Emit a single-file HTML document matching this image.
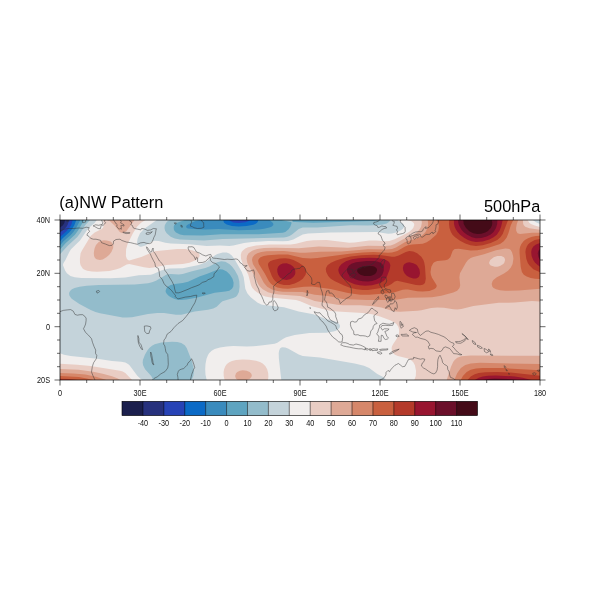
<!DOCTYPE html>
<html><head><meta charset="utf-8"><title>NW Pattern 500hPa</title>
<style>
html,body{margin:0;padding:0;background:#fff;width:600px;height:600px;overflow:hidden}
svg{position:absolute;left:0;top:0;display:block;will-change:transform}
.ax{font-family:"Liberation Sans",Arial,sans-serif;font-size:8.5px;fill:#111}
.tt{font-family:"Liberation Sans",Arial,sans-serif;font-size:16.3px;fill:#000}
</style></head><body>
<svg width="600" height="600" viewBox="0 0 600 600">
<defs><clipPath id="fr"><rect x="60" y="220" width="480" height="160"/></clipPath></defs>
<g clip-path="url(#fr)">
<rect x="60" y="220" width="480" height="160" fill="#1b1f4d"/>
<path fill="#27317d" d="M60,380 540,380 540,220 65,220 64.4,222.7 63.7,224 62.7,225.4 60,227.4 60,380Z"/>
<path fill="#2743b6" d="M60,380 540,380 540,220 68.9,220 68,224 66.5,226.7 64,229.3 60,232.4 60,380Z"/>
<path fill="#0b6ac6" d="M60,380 540,380 540,220 250.2,220 248,221.3 245.3,222.2 238.7,223 233.3,222.4 230.7,221.3 229.1,220 72.6,220 71.6,224 69.4,228 66.7,231.1 60,236.9 60,380Z"/>
<path fill="#3a8bbd" d="M60,380 540,380 540,220 258.2,220 258,221.3 257.1,222.7 255.2,224 253.3,224.8 246.7,226.1 238.7,226.6 232,226.1 226.7,224.6 224.1,222.7 223.5,221.3 223.4,220 76.3,220 74.3,225.3 71.9,229.3 69.3,232.3 62.7,238.3 60,241.2 60,380Z"/>
<path fill="#5ea4c0" d="M60,380 540,380 540,220 269.6,220 272.7,222.7 273.4,224 273.2,225.3 271.5,226.7 269.3,227.5 264,228.8 258.7,229.6 238.7,230.3 218.7,229.1 205.3,229.6 198.1,229.3 188,228.4 186.8,228 186,226.7 186.8,225.3 188.9,224 195,221.3 199.7,220 80.3,220 76.1,228 73.4,232 70.7,234.9 63.5,241.3 60,245.4 60,380Z"/>
<path fill="#93bccb" d="M60,380 540,380 540,220 381.4,220 373.3,221.1 313.3,222.7 294.7,222.1 293.3,222 292.2,221.3 292.4,220 281.5,220 290.7,222 291.7,222.7 290.3,226.7 288.6,229.3 285.3,231.9 282.7,232.7 258.7,234.2 221.3,234.2 202.7,235.5 184,235.3 180,234.6 176,232.4 174.4,230.7 173.8,229.3 173.7,226.7 174.1,225.3 175.2,224 177.1,222.7 184.8,220 84.7,220 82.6,222.7 77.9,230.7 74.9,234.7 65.3,243.4 60,249.6 60,380ZM181.3,300 178.7,299.9 174.7,299 170.9,297.3 168.9,296 166.7,293.8 165.7,292 165.6,290.7 166.6,288 168,286.6 170.7,285.1 174.7,284.1 182.7,283 188,281.7 200,276.3 206.7,274.1 216,270.3 219.7,269.3 222.7,269.5 226.7,271.5 230,274.7 232.5,278.7 233.6,282.7 233.3,286.5 232,288.8 229.3,290.7 225.3,291.6 214.7,292.7 197.3,297.5 186.7,299.4 181.3,300Z"/>
<path fill="#c4d3da" d="M60,380 153.3,380 151.2,376 145.1,369.3 143.1,365.3 142.7,362.7 142.9,360 144.9,354.7 147.2,350.7 149.3,348.1 152,345.8 154.7,344.3 161.3,342.6 172,341.7 177.3,342 181.3,343 184.8,345.3 186.7,348 192,361.6 193.5,368 193.8,372 193.3,375.9 192.1,378.7 191.1,380 540,380 540,220.7 538.6,220 390.4,220 389.3,221.8 386.7,223.5 382.7,224.5 378.7,224.9 368,225.5 350.7,225.3 317.3,227.4 302.7,227.6 298.7,228.9 292,234.4 289.5,236 286.7,237 284,237.5 222.7,238.9 204,240.4 180,239.5 174.7,238.4 170.7,236.8 166.7,233.3 165.1,230.7 164.5,228 164.8,225.3 166.2,222.7 167.5,221.3 170,220 90.1,220 85.3,225 80.1,233.3 77.3,236.9 68,245.4 60,254.3 60,380ZM122.7,317.5 100,313.3 95.5,312 90.7,310 79.4,304 71.7,298.7 70.5,297.3 69.3,295.2 69.1,293.3 69.5,292 70.3,290.7 71.9,289.3 74.6,288 79.5,286.7 86.7,285.7 98.7,285 134.7,284.6 148,283.2 152,282.2 156,280.7 166.7,274.5 170.7,273.9 178.7,274.4 182.7,274 192,271.3 205.3,268.1 209.3,266.5 217.3,262.3 221.3,261.3 225.3,261.7 229.3,263.9 232,266.5 234.7,270 238,276 239.3,281.3 239.6,286.7 238.9,292 237.3,295.3 236,296.7 233.3,298.1 222.5,301.3 220.7,302.7 216.7,306.7 213.3,308.4 208,309.8 194.7,311.5 181.3,314.7 176,314.7 164,313.1 157.3,313 148,314.1 132,317.2 126.7,317.6 122.7,317.5Z"/>
<path fill="#f1eeed" d="M60,380 61.3,380 141.9,380 137.3,375.8 129.5,365.3 128,364.1 125.3,362.6 121.3,361.7 112,361 97.3,358.8 70.7,356 64,354.7 60,353.3 60,380ZM206.7,380 281.3,380 278.9,358.7 278.7,353.3 279.1,350.7 280,348.6 281.3,347.6 282.7,347.3 285.3,347.5 288,348.4 298.7,354.6 302.7,356 320,357.6 354.7,363.5 364,365.7 369.2,368 377.3,374.1 383.6,377.3 385.1,378.7 385.9,380 540,380 540,223.9 536,222.3 532.7,220 397.6,220 403.1,224 404.1,225.3 404.3,226.7 402.7,228.9 400.1,230.7 396,232.5 392,233.6 388,233.7 380,232.4 376,232.1 330.7,232.5 308,233.4 302.7,234.4 293.3,239.4 288,241 282.7,241.3 268,241.1 252,242.1 244,243 233.3,245.5 229.3,246 220,245.4 206.7,246 189.3,244.3 170.7,243.5 165.3,242.8 158.7,241.1 154.7,240.8 152,241.6 145.3,245.4 141.3,246.7 140,246.7 137.8,245.3 137,242.7 137.6,238.7 140,233.3 144,228.9 156.7,220 96.8,220 94.8,222.7 88,228.7 80,240.4 71,249.3 69.3,252 65.3,260.2 63.7,262.7 63.1,264 63,265.3 65.2,270.7 66.9,273.3 70.4,276 74.7,277.3 81.3,278.1 110.7,278.3 125.3,277.6 138.7,275.2 150.7,274.8 153.3,274.1 161.3,270.4 165.3,269.2 169.3,268.6 182.7,268.2 198.7,265.1 205.3,262.5 214.7,255.5 217.3,254 222.7,252.4 226.7,252.4 229.3,253.4 232,255.7 234.7,259.5 241.8,272 243.7,277.3 245.3,288.7 247.3,293.3 250.7,297.2 257.3,302.4 261.3,304.4 264,305.1 284,307.3 298.7,311.4 313.3,314.3 324,318.3 336,321.8 338.7,323.4 339.9,325.3 340,326.7 339.4,328 338.2,329.3 336,330.7 333.3,331.6 326.7,332.7 309.3,332.9 294.7,335 286.2,337.3 283.3,338.7 277.3,342.8 274.7,343.7 263.1,345.3 253.3,346.2 246.7,346.4 233.3,346.1 226.7,346.5 220,347.4 214.7,349 211.7,350.7 209.3,352.9 208,354.9 206.5,358.7 205.5,364 205.2,369.3 205.5,374.7 206.7,380Z"/>
<path fill="#e9cdc4" d="M60,380 61.3,380 132.1,380 125.3,373.1 122.7,371.6 120,370.8 90.7,365.9 77.3,364.7 60,363.7 60,380ZM224.6,380 267.9,380 268.4,377.3 268.2,373.3 267.2,369.3 265.3,366.1 262.7,363.5 260,362 256,360.7 249.3,359.8 242.7,359.6 236,360.1 232,361 229.3,362.2 226.9,364 225.3,366.2 224.1,369.3 223.6,372 223.7,376 224.6,380ZM414.3,380 540,380 540,226.9 534.7,225.5 531,224 529.3,222.7 527.6,220 406.7,220 411.5,221.3 413.5,222.7 414.2,224 414.2,225.3 413.3,227.8 412.2,229.3 409.3,231.8 406.7,233.3 394.7,239.3 389.3,240.9 385.3,241.2 376,240.6 369.3,240.6 354.7,242.6 349.3,242.8 326.7,240.1 313.3,240.2 306.7,241 296,243.7 290.7,244.5 269.3,244.4 256,245.4 248,247.3 245.3,248.5 242.6,250.7 241.6,252 240.8,254.7 241,258.7 242.8,264 248.3,274.7 251,285.3 252.4,288 254.7,290.5 257.3,292.6 261.3,294.9 265.3,296.4 270.7,297.5 296,300.1 300.2,301.3 312,306.3 330.7,310.9 337.3,311.6 362.7,312.9 372,314.3 380,316.6 390.7,320.6 394.8,322.7 396.4,324 398.3,326.7 399,329.3 399.1,332 398.7,334.7 397.7,337.3 393.2,344 392,346.3 391.6,348 391.9,350.7 393.3,353.3 394.9,354.7 397.9,356 408,358.5 410.9,360 413.3,362.3 414.9,365.3 416,370.7 415.8,376 414.3,380ZM87.2,270.7 92,271.5 97.3,271.8 109.3,271 116.7,269.3 120.3,268 126.7,264.6 129.3,264.1 144,267.3 149.3,267.9 153.3,267.6 166.7,265 182.7,264.1 189.5,262.7 196.2,260 199.1,257.3 199.6,256 199.5,254.7 198.7,253.3 196.9,252 192,250.2 185.3,249 177.3,249 154.7,251.2 141.3,256.9 129.3,260.5 128,260 126.8,258.7 125.9,256 126.1,249.3 127.6,244 132.9,233.3 137,226.7 141,222.7 145.5,220 102.9,220 103.7,222.7 103.9,225.3 102.8,228 101.2,229.3 94.7,232.4 90.7,235.9 81.8,250.7 80.6,253.3 79.9,258.7 80,262.7 80.6,265.3 82.7,268.4 84,269.4 87.2,270.7Z"/>
<path fill="#dea996" d="M60,380 61.3,380 120.3,380 117.3,378.2 112,376.3 102.7,373.7 93.3,371.7 78.7,369.8 60,369.1 60,380ZM236,378.7 237.8,380 246.7,380 249.8,378.7 251.2,377.3 251.8,376 251.7,374.7 251,373.3 249.6,372 246.7,370.7 242.7,370.3 240,370.7 237.3,371.9 236,373.3 235.1,376 236,378.7ZM446.7,380 540,380 540,355.8 470.7,355.5 461.3,356.3 457.3,357.8 454.7,360 453.3,361.7 451,366.7 446.7,380ZM391.9,310.7 396,311.5 400,311.7 417.3,310.8 421.3,310.3 431.1,308 437.3,307.4 444,307.8 453.3,309.3 457.3,309.5 461.3,308.9 473.3,306 498.7,302.8 514.7,302.6 532,301 540,301.6 540,229.8 529.3,228.3 525.3,226.7 524,225.5 523.2,224 522.9,220 421.5,220 421.9,222.7 421.1,226.7 419.6,229.3 417.3,232 413.3,234.8 402.7,239.5 394.7,244 390.7,245.5 385.3,246 368,245.8 348,247.7 318.7,246.4 298.7,248.2 274.7,247.7 264,248 257.3,248.9 252.2,250.7 248.6,253.3 247,256 246.6,258.7 247.3,262.7 249.2,266.7 253.9,274.7 258.1,284 260,286.7 262.7,289.2 268,292.2 273.3,293.8 278.7,294.6 300,296 304,297.1 314.7,300.9 337.3,304.8 342.7,305.3 360,305.3 373.3,306.2 381.3,307.5 391.9,310.7ZM494.7,266.7 490.7,265.4 489.4,264 489.1,262.7 490.2,260 493.7,257.3 497.3,256 501.3,255.9 504,257.3 504.8,258.7 505.1,260 504.3,262.7 503.3,264 500,266.1 497.3,266.7 494.7,266.7ZM99.9,260 102.7,259.4 106.4,257.3 109.3,254.7 111.4,252 113.1,248 113.3,245.3 112,242.7 110.7,241.6 106.7,240.4 104,240.3 101.3,240.7 98.7,242 96,245 94.7,248 94.1,250.7 93.8,253.3 94.1,256 94.7,257.4 96,258.9 97.3,259.6 99.9,260ZM119.8,232 121.3,232.8 122.7,232.8 125.3,231.8 126.7,230.7 134.5,220 108.7,220 114.3,225.3 119.8,232Z"/>
<path fill="#d6876a" d="M60,380 61.3,380 106.5,380 96,376.7 85.3,374.6 73.3,373.4 60,372.9 60,380ZM454.3,380 540,380 540,364.1 480,362.8 470.7,363.4 465.3,365 460.9,368 457.3,372.9 454.3,380ZM366.7,300 392,300.1 397.3,299.6 408,297.7 424,297.6 432,297.2 441.3,295.7 453.3,292.6 457.2,290.7 459.5,288 460.2,285.3 459.4,277.3 460,273.3 465.9,262.7 468,259.9 470.7,258 473.3,256.9 484,254.2 496,250.3 505.3,248.6 508,248.7 509.3,249.1 510.7,250.1 512,252.2 513.1,256 513.4,258.7 512.6,264 510.7,267.8 508,270.8 504,273.6 496.8,277.3 493.4,280 492.5,281.3 491.7,284 492.4,286.7 493.6,288 496.1,289.3 500,290.3 505.3,290.8 518.7,290.5 540,288.8 540,232.7 532,232.7 520,234.1 517.5,233.3 516.2,230.7 516.1,228 516.8,224 518.2,220 427.7,220 428.2,224 427.5,228 425.5,232 422.7,235.1 420,237 417.3,238.3 405.3,242.1 396,247.5 392,249 386.7,249.5 368,249.2 341.3,251.4 320,251.8 305.3,252.8 300,252.7 284,251 266.7,251.3 261.3,251.9 257.3,253.2 254.7,254.8 252.6,257.3 252,260 252.9,264 259.6,274.7 263.8,282.7 267.2,286.7 272,289.5 277.3,291 282.7,291.8 302.7,291.9 314.7,294.7 328,296.1 342.7,299 366.7,300Z"/>
<path fill="#c9603f" d="M60,380 61.3,380 93.6,380 86.7,378.4 78.7,377.1 69.3,376.4 60,376.1 60,380ZM460.7,380 540,380 540,370.3 502.7,368.1 482.7,368.1 476,368.5 470.7,369.8 466.7,372.1 462.9,376 460.7,380ZM360.3,294.7 369.3,294.8 390.7,293 394.7,292.2 402.7,289.8 405.3,289.4 408,289.5 417.3,291.2 422.7,291.6 429.3,290.9 434,289.3 435.8,288 436.6,286.7 436.7,285.3 432,277.8 430.9,274.7 430.5,272 431.3,266.7 433.3,263.1 434.7,262.1 437.3,261 445.3,260.2 448,259.4 450.3,257.3 452.7,250.7 454.7,249.1 458.7,248.8 470.7,250.4 477.3,250.2 482.7,249.3 489.3,247.6 500,243.9 503.8,241.3 506.7,237.5 508.4,233.3 510.8,225.3 513.3,220 436.1,220 437.4,221.3 438.6,224 438.9,226.7 438.3,230.7 436.2,234.7 430.2,240 426.7,242.2 422.7,243.7 412,244.5 408,245.3 404.6,246.7 397.3,251 392,252.6 388,252.8 373.3,252 362.7,252.4 349.3,253.8 317.3,258 310.7,258.5 302.7,257.9 288,254.6 278.7,254.5 268,255.3 263.7,256 260.5,257.3 259,258.7 258.3,260 258.2,261.3 258.8,264 264.6,273.3 268.9,281.3 270.7,283.6 272.8,285.3 277.3,287.5 282.7,288.5 288,288.7 304,286.7 312,286.5 330.7,289.1 348,293.1 360.3,294.7ZM535.1,278.7 540,279 540,235.8 536,235.9 532,236.7 528,238.2 525.3,239.8 523.5,241.3 521.4,244 520.1,246.7 519.6,249.3 519.6,253.3 520.7,266.7 521.9,272 523.8,274.7 526.7,276.6 530.7,277.9 535.1,278.7Z"/>
<path fill="#b43a2a" d="M60,380 61.3,380 78,380 69.3,379.1 60,378.8 60,380ZM467.5,380 540,380 540,375.8 510.7,372.5 497.3,372 485.3,372.3 478.7,373.1 474.7,374.2 470.7,376.6 467.5,380ZM356.4,289.3 362.7,290.1 368,290.1 381.1,288 388,286.1 391.6,284 394.7,281.5 397.3,280.7 416,285.1 420,285.3 422.7,284.7 424,283.9 425,282.7 425.8,278.7 425,266.7 424.3,262.7 423.4,260 421.3,256.8 417.2,253.3 413.3,251.5 409.3,251 405.8,252 398.7,255.6 394.7,256.7 392,256.8 380,255.1 373.3,254.8 361.3,255.2 350.7,256.4 344,257.9 336,260.4 331,262.7 327.5,265.3 326,268 325.8,269.3 326.2,272 328.2,276 330.7,278.7 334.9,281.3 344,285.5 350.7,287.9 356.4,289.3ZM279.8,284 284,285 289.3,284.9 294.7,283.5 299.3,281.3 302.8,278.7 305.6,274.7 306.2,272 306.1,270.7 305,268 302.5,265.3 298.8,262.7 293.5,260 289.2,258.7 285.3,258.2 280,258.5 273.3,260 270.1,261.3 268.6,262.7 268,264 268,265.3 268.7,268 271.8,276 273.3,278.8 275.4,281.3 277.3,282.8 279.8,284ZM539.5,272 540,272.2 540,239.1 534.7,240.1 529.9,242.7 528,244.6 526.7,246.7 525.8,249.3 525.4,252 526.3,258.7 527.7,262.7 529.3,265.3 533.3,269.2 539.5,272ZM470.5,245.3 476,245.9 482.7,245.2 490.7,243.1 497.3,240 500.4,237.3 502.7,234 508.1,220 449.2,220 449,224 449.5,228 450.9,232 452.5,234.7 455.1,237.3 460,240.7 465.3,243.5 470.5,245.3Z"/>
<path fill="#981530" d="M474.8,380 476,380 531.5,380 522.7,377.8 514.7,376.4 496,375.5 488,375.7 482.7,376.5 478.7,377.7 474.8,380ZM359.7,285.3 365.3,285.8 372,285.3 378.7,283.6 383.2,281.3 385.3,279.3 386.6,277.3 389.7,269.3 390.4,265.3 389.5,262.7 388.2,261.3 386,260 382.3,258.7 377.3,257.9 369.3,257.7 358.7,258.3 352,259.3 345.9,261.3 341.6,264 339.3,266.7 338.4,269.3 338.4,270.7 339.1,273.3 340.8,276 344,278.9 349.3,282.1 354.7,284.2 359.7,285.3ZM286.6,280 290.7,279 293.3,277.1 294.9,274.7 295.3,273.3 295.3,270.7 294.7,268.8 293.3,266.8 290.7,264.7 286.7,263.3 282.7,263.6 280,264.8 278.1,266.7 277.2,269.3 277.4,272 278.2,274.7 280,277.4 282.7,279.2 286.6,280ZM409.4,277.3 413.3,278.4 416,278.4 417.3,278 418.7,277 419.3,276 420,273.3 419.4,269.3 417.3,265.8 416,264.6 413.3,263.2 409.3,262.3 406.7,262.7 404.5,264 403.5,265.3 402.9,268 403.3,270.7 404.5,273.3 406.7,275.8 409.4,277.3ZM538,265.3 540,266.7 540,243.1 536,244.4 533.3,246.5 531.7,249.3 531.2,252 531.6,256 533.2,260 535.1,262.7 538,265.3ZM471.6,241.3 476,242 482.7,241.4 489.3,239.5 493.6,237.3 496.8,234.7 499.5,230.7 501.1,226.7 502.7,220 453.9,220 454,224 454.7,226.7 455.8,229.3 457.6,232 460.1,234.7 464,237.7 468,240 471.6,241.3Z"/>
<path fill="#6b0f2a" d="M483,380 484,380 516.9,380 508,378.9 494.7,378.5 488,378.9 483,380ZM362.9,281.3 368,281.5 372,281 376,279.8 380,277.5 382.3,274.7 383.7,270.7 383.8,266.7 382.4,264 380.7,262.7 377.3,261.5 373.3,261 366.7,261.1 356,262.2 352,263.6 349.3,265.3 348,266.8 346.9,269.3 347.2,272 348.7,274.7 351.7,277.3 354.7,279 358.7,280.5 362.9,281.3ZM540,260 540,260 540,249 538.4,250.7 537.7,253.3 538.5,257.3 540,260ZM471.9,237.3 476,238.2 481.3,237.9 486.7,236.4 490.7,234.4 493.5,232 496,228 497.2,224 497.4,220 458.1,220 458.3,222.7 459,225.3 461.3,229.5 463.5,232 466.7,234.6 471.9,237.3Z"/>
<path fill="#440b18" d="M364.6,276 370,276 372,275.5 374.7,274.2 376,273 377,270.7 377,269.3 376.3,268 374.7,266.8 373.3,266.3 369.3,265.9 362.7,266.5 358.7,268 357.4,269.3 357.1,270.7 357.4,272 358.4,273.3 360.4,274.7 364.6,276ZM473.3,233.3 477.3,234.1 481.3,233.8 485.3,232.5 488,230.9 490.7,228.1 492,225.3 492.3,222.7 491.8,220 463.3,220 463.7,224 466,228 469.3,231.2 473.3,233.3Z"/>
<path fill="none" stroke="#303030" stroke-width="0.48" stroke-linejoin="round" d="M60,311.7 63.2,310.4 67.2,309.9 70.7,309.6 73.3,311.2 74.9,314.4 77.3,315.2 80,314.7 82.7,314.7 84.8,316.3 86.1,318.1 86.1,320.5 85.6,324 84.8,326.1 83.5,328.8 85.6,332.5 88.5,335.2 91.5,338.7 92.5,342.4 94.1,346.7 95.7,350.1 95.5,353.3 96.8,355.5 96.3,358.7 93.6,362.7 92.3,366.7 91.5,372 93.1,376 94.7,379.5 95.2,380M60,230.9 64,229.3 68,228.5 73.3,228.5 78.7,228 82.9,228.3 86.1,227.2 89.3,227.7 88.3,229.3 89.6,231.5 87.7,233.3 86.9,235.2 89.1,236.5 90.7,238.4 93.3,239.2 96,239.2 100.5,240.3 101.6,242.7 105.3,244 109.3,245.6 112,245.3 113.3,244 113.6,241.1 116,239.5 120,239.2 121.9,240.5 126.7,242.1 130.7,242.7 134.7,243.7 137.3,244.3 140.5,242.9 144,242.4 146.1,243.2 149.3,243.7 151.5,242.9 153.1,239.7 153.9,237.3 155.2,234.9 155.7,232 156,229.9 156.5,228.8 153.3,228.5 150.7,229.9 147.5,230.4 144,228.8 141.6,228.5 140.8,229.9 137.3,229.1 134.7,228.5 133.1,227.7 132.5,225.6 130.7,224.5 131.5,223.5 131.5,221.9 129.9,221.3 129.6,220M146.4,246.7 146.9,248.8 148.5,251.5 150.4,254.1 151.5,256.8 153.3,260.3 154.9,263.2 155.5,266.7 158.4,268.5 159.2,272 159.7,276.5 162.1,279.2 164,283.5 165.9,285.9 168.5,287.7 171.5,290.4 173.6,293.1 175.5,295.5 174.9,296.3 177.9,298.9 181.3,298.1 185.3,297.1 190.4,296.5 194.1,295.5 196.8,295.2 196.3,298.7 194.9,302.7 192.5,306.7 189.6,312 186.1,316.5 182.7,320.5 178.1,323.5 174.1,327.5 170.9,331.5 167.2,334.1 165.6,338.1 164,340 163.5,344 164.8,345.9 165.3,348.5 165.9,352 167.7,354.4 168,357.3 168.3,364.5 167.7,368 165.1,371.5 160.8,373.9 157.3,376.8 154.1,378.4 152.8,379.7 153.1,380M146.9,246.9 148.8,249.6 150.7,252.3 151.7,251.5 152.3,249.3 153.1,248M153.1,248 153.3,251.5 154.9,253.1 157.3,257.3 159.5,261.1 162.1,263.5 164.3,267.2 164.5,269.9 167.2,273.3 169.3,277.1 172.3,281.9 174.1,285.9 174.7,289.1 175.7,292.8 178.7,292.8 180.5,292.3 184,290.9 188,289.3 191.5,287.7 196,286.1 199.2,284.8 202.4,282.4 206.1,281.3 208,279.7 210.7,278.7 213.9,276.5 214.1,273.6 216,272 219.5,266.9 217.3,264.8 215.7,263.5 212.8,262.7 210.4,260.3 210.1,256.5 209.3,258.1 207.7,259.2 205.3,261.6 202.7,262.4 198.7,262.7 197.6,261.6 197.6,257.9 196.5,257.1 195.5,259.7 194.1,256.3 192.3,254.9 191.2,253.6 189.1,250.7 188,248 188.5,246.7 189.9,246.9 192,246.7 193.9,247.5 194.9,249.3 196.5,252 199.7,253.1 202.7,254.9 205.9,256 208.5,254.9 210.7,254.4 212,257.3 213.1,258.1 216.5,258.4 220,258.9 224.3,259.5 227.2,259.2 232,259.5 236,258.9 237.9,259.5 239.2,261.1 240.3,262.9 242.4,264 243.5,265.9 247.2,265.6 244.5,267.2 247.2,270.7 249.9,271.2 253.6,269.9 254.4,272.5 254.1,276 255.2,279.7 256,283.5 257.1,286.1 258.7,289.1 259.5,292.5 261.6,296 263.2,299.7 264.3,302.9 266.7,305.1 268.3,304.3 269.1,302.1 271.5,301.9 272.8,299.2 272.8,295.7 273.9,292 273.9,289.3 273.6,286.1 275.5,284.5 276.8,282.9 279.5,281.3 282.4,279.2 285.9,276.3 288,274.1 290.9,272.5 291.7,270.4 293.9,269.1 296.5,268.8 297.9,268.5 300,268.3 301.6,266.4 303.7,266.4 305.1,268.5 306.1,271.5 308,273.9 310.1,276 311.5,278.1 312,280.8 311.5,284 313.3,284.5 314.9,284.5 317.3,282.4 319.5,282.4 320.3,285.3 320.8,288.5 322.1,292 322.9,296 322.9,300 322.1,303.5 322.1,305.6 324,307.2 325.9,309.3 327.5,312.3 328,315.5 329.6,318.7 330.9,320.5 333.9,321.9 336,323.2 337.9,322.9 337.1,320.3 335.7,316.5 335.7,314.1 334.4,311.7 332.3,310.1 330.1,308.3 327.7,307.2 327.2,304.3 326.4,302.1 324.5,300 325.1,296.8 325.9,293.6 326.7,290.9 329.1,290.7 329.1,293.1 331.5,293.1 333.6,294.7 334.7,296.8 336.5,298.7 338.4,298.9 339.5,301.1 340.3,303.7 342.4,301.6 344.5,300 346.4,298.4 349.6,296.8 351.2,295.2 351.5,291.5 351.2,288.5 350.1,285.6 348.3,283.5 346.1,281.6 344.3,279.2 342.4,277.1 341.9,275.2 343.5,273.1 344.8,271.5 347.5,269.1 349.3,269.1 351.7,269.3 353.1,269.6 352.3,271.2 353.9,272.5 354.9,270.7 357.1,269.3 359.5,268.5 361.9,267.5 362.9,266.1 364.5,267.2 366.7,266.1 369.6,265.6 371.5,264.5 373.6,263.2 375.5,261.1 377.3,259.2 379.2,257.6 379.2,255.2 381.1,253.9 382.4,252 384.3,250.1 385.1,247.7 384,246.1 382.9,245.1 385.1,244 384.3,242.1 382.4,240.3 381.9,238.7 380.8,235.5 378.1,233.9 378.4,232.8 380.3,230.9 381.9,229.6 384,228.5 386.7,228 385.9,226.7 383.5,226.4 381.9,225.9 379.7,227.2 377.9,227.5 377.1,225.6 375.2,225.1 373.6,224 373.9,222.4 375.7,222.1 378.1,221.3 379.7,220M391.7,220 392.8,221.1 394.4,221.6 393.9,223.7 392.8,225.3 394.9,225.9 397.1,226.4 397.6,228.3 396.5,229.9 397.6,231.7 396.8,233.6 397.6,234.9 399.7,234.1 402.4,233.6 404.5,232.8 405.3,231.2 405.1,229.1 405.1,227.5 403.7,225.9 402.4,224 400.5,222.1 400,220.5 401.3,220M406.1,237.6 407.7,236.5 409.3,236.3 410.9,237.3 411.2,239.7 410.4,242.7 409.3,243.2 408.3,244 407.2,242.9 407.2,240.8 406.7,239.2 405.6,238.4 406.1,237.6M413.1,237.9 414.4,236.3 416.3,236 418.1,235.5 419.2,236.5 417.9,237.9 416.3,237.6 414.7,239.2 413.1,237.9M409.1,235.2 410.4,234.9 412.8,233.1 415.5,232 418.1,231.7 420.8,231.7 422.7,230.9 423.2,229.1 424.8,227.5 426.1,226.7 425.6,228.5 428.8,227.5 430.1,225.9 432,224 433.1,221.9 433.3,220M438.7,220 438.4,222.1 437.6,224.3 436,224.8 436,226.9 435.5,229.3 434.9,230.9 435.7,231.5 434.1,233.1 432.8,233.6 432.8,232.3 431.2,232.5 430.1,234.1 428.5,234.4 426.1,234.4 425.1,235.2 423.7,236.3 422.1,237.3 420.5,236.3 420.3,234.4 418.1,234.1 415.5,234.7 412.8,235.5 410.4,236.3 409.1,236 409.1,235.2M380.3,265.3 380.5,263.2 381.9,261.1 384,259.2 385.1,260 384.3,262.7 383.5,265.3 382.4,268 381.6,266.9 380.3,265.3M349.6,275.7 351.2,273.6 353.6,273.1 355.2,273.3 356,274.4 354.7,276.5 352.3,278.1 350.4,277.6 349.6,275.7M381.6,277.3 383.5,277.1 385.9,277.3 386.7,280.8 385.9,283.2 384.3,284.3 384.3,287.5 385.9,288.8 388.3,289.6 390.4,289.9 390.9,292 389.6,292.8 388,291.7 386.7,290.4 384.8,289.6 382.9,290.1 381.9,288.5 381.6,287.2 380,285.9 379.5,283.5 380.8,282.7 381.1,279.7 381.6,277.3M381.1,290.7 383.2,290.7 384,292.3 382.9,294.1 381.1,292.8 381.1,290.7M391.5,293.3 393.9,293.3 395.2,296.8 393.9,299.5 392.8,300 391.7,297.6 391.5,293.3M385.1,294.9 387.2,295.7 388.3,297.1 386.1,298.4 385.1,296.8 385.1,294.9M386.4,298.4 388.8,297.6 389.3,299.5 388,302.4 386.7,301.1 386.4,298.4M389.1,296.8 390.7,296.8 390.7,299.2 389.3,301.1 389.1,296.8M390.1,300 392.3,299.7 391.7,301.1 390.1,301.1 390.1,300M385.3,308 387.5,305.9 389.6,305.3 390.4,303.7 392.5,304 394.4,302.1 394.7,300.5 396.3,301.9 397.1,304.8 397.3,307.5 396.3,309.6 395.2,307.7 394.4,310.1 394.1,311.7 391.5,310.1 390.7,308.3 389.6,306.4 388,306.7 385.9,308.3 385.3,308M372.5,304.5 374.9,302.7 377.1,300 378.9,298.4 378.4,296.5 376.8,298.4 374.4,301.1 372.5,304.5M350.7,321.9 352.5,321.3 354.7,322.1 356.5,321.9 358.4,318.9 361.6,318.1 364.3,314.9 366.4,313.6 368,312.8 369.6,310.7 371.2,308.3 372.8,308.5 374.7,310.4 376.3,311.2 377.9,312.5 375.5,314.4 373.9,315.7 374.1,317.9 374.7,320.8 377.1,323.5 374.7,324.3 373.3,326.4 372.8,329.1 370.9,330.7 370.4,333.3 369.6,336 367.5,336.8 365.3,336 362.9,335.7 360,335.7 357.9,334.7 355.7,334.9 353.9,334.4 353.6,331.2 352,329.1 350.9,326.7 350.4,324.3 350.7,321.9M314.1,311.7 317.1,312.8 320,312.8 322.1,315.5 325.3,318.1 327.7,320.8 330.4,322.1 333.1,323.7 335.7,325.6 336.8,329.1 338.7,330.9 340,333.3 342.1,334.7 342.7,337.3 342.1,341.9 340.5,342.1 338.7,341.9 336,339.5 332.8,337.1 330.4,334.1 327.7,329.9 326.1,326.1 324.5,324 322.9,321.9 320.5,320 318.7,316.8 316,314.7 314.1,311.7M340.5,344.8 342.7,342.7 345.3,342.7 348,343.5 349.6,344.5 353.3,345.1 356,344 360.3,345.1 362.7,346.1 365.3,347.5 365.1,349.9 361.9,348.8 358.7,348.8 356,348.5 353.3,348 349.6,347.2 346.7,346.7 343.7,346.1 340.8,344.8M365.6,348.3 367.5,348.5 368.5,349.3 367.2,350.1 365.3,349.3 365.6,348.3M369.3,348.8 371.2,348.8 370.9,350.4 369.3,350.1 369.3,348.8M371.5,349.3 373.6,348.5 375.5,349.1 377.6,348.8 377.3,350.4 374.7,350.4 372,350.7 371.5,349.3M379.5,349.6 382.1,349.1 385.3,349.1 388,348.8 387.5,349.9 384,350.1 380.5,350.4 379.5,349.6M377.3,352.3 380,351.7 382.1,353.3 380.5,354.1 377.6,353.1 377.3,352.3M389.3,353.9 392,351.7 394.7,350.4 399.2,349.1 397.3,350.4 394.1,352 390.7,353.9 389.3,353.9M378.4,341.3 378.9,338.4 378.9,336 377.1,334.7 376.8,333.6 377.9,332 378.4,329.9 379.5,327.2 379.7,325.1 381.1,324.3 382.9,323.2 386.7,324 389.3,324.3 392,323.5 393.9,322.4 392.8,325.3 388.8,325.6 385.1,325.3 381.9,325.6 380.8,327.5 382.4,330.1 384.3,328.8 386.9,328.8 389.1,329.1 387.7,330.4 384.8,331.5 386.1,334.1 386.7,336 388.5,338.1 387.2,339.2 385.3,339.5 384,338.4 382.7,335.5 381.3,335.2 381.1,338.7 381.1,341.3 378.4,341.3M400,321.3 401.6,322.7 401.1,324.5 403.2,324 401.6,325.6 403.7,325.9 401.3,328.3 400.3,326.4 400,324 400,321.3M401.1,334.4 403.7,334.4 406.4,334.1 408.8,336 405.6,336 402.1,336 401.1,334.4M396,335.2 398.1,334.9 399.2,336.3 397.6,336.8 396,336.3 396,335.2M409.3,330.4 411.5,328.8 414.4,327.7 417.3,329.1 418.1,332.8 420.3,335.5 422.7,333.6 425.9,331.2 428.3,330.9 430.9,332.3 434.9,333.3 438.4,334.4 441.3,335.7 444,336.8 446.7,338.7 448.8,340.8 451.2,342.4 453.6,343.2 454.1,344.8 452.3,346.4 454.4,348.3 456,350.7 457.9,352 459.5,353.6 461.9,354.7 460,354.9 457.1,353.9 453.6,353.6 451.5,350.7 449.6,348.5 445.6,346.9 443.5,347.7 442.1,350.4 440.3,351.5 436,350.9 433.6,348.8 430.9,348.3 429.1,349.1 428.3,346.4 430.1,345.1 427.7,341.1 425.1,339.5 420.5,338.4 417.6,337.1 415.7,337.3 414.1,336 412.3,334.4 414.1,332.8 416.5,332.5 412.8,332 410.1,330.7 409.3,330.4M455.5,341.6 458.4,341.6 460.5,341.3 462.1,340.5 464.3,339.7 465.6,337.9 466.4,338.7 464.8,340.8 462.7,342.1 460.8,343.2 458.4,343.2 456,342.7 455.5,341.6M461.9,333.6 464,335.2 466.1,337.1 467.7,338.7 468.3,339.5 467.2,339.2 465.3,336.3 463.2,334.7 461.9,333.6M472.3,340.5 474.7,342.1 476,344.5 473.9,344 472.5,342.1 472.3,340.5M477.3,345.3 480.3,346.4 482.4,348 480.5,348.5 477.6,346.9 477.3,345.3M484,348.5 486.1,349.3 488.8,351.7 486.7,352.8 484.5,351.5 484,348.5M488.3,349.1 489.9,349.9 490.7,352.3 489.1,350.9 488.3,349.1M490.1,353.9 492.3,354.4 492.8,355.5 490.9,355.2 490.1,353.9M504.3,365.6 505.9,367.2 505.3,368.3 504.3,367.5 504.3,365.6M505.9,369.3 507.5,370.7 506.4,370.9 505.9,369.3M508.5,373.3 509.6,373.9 508.8,374.4 508.5,373.3M532.8,373.1 535.2,372.8 536.3,374.1 534.4,375.2 532.8,374.4 532.8,373.1M537.1,370.4 539.7,369.9 540,370.4 538.1,371.5 537.1,370.4M379.5,380 383.2,378.7 385.9,374.9 386.1,372.3 388,370.4 389.6,371.7 390.4,370.1 392.5,367.7 394.9,365.3 396.5,364.5 398.4,363.5 400.8,365.3 402.4,366.7 404.8,366.4 406.4,363.5 407.5,361.3 408.3,359.7 410.1,359.2 413.6,358.9 413.6,357.3 415.7,357.9 418.4,358.7 420.5,359.2 422.7,358.7 424.8,359.2 424,361.6 422.4,362.9 421.3,365.9 423.5,368 425.6,369.1 428.5,371.2 431.5,373.1 433.9,373.9 435.5,373.1 437.1,370.1 437.6,366.7 437.6,362.9 437.9,359.7 438.7,357.1 440,355.2 440.8,356.8 441.9,359.5 442.7,362.7 444.5,364.5 446.1,365.3 447.5,366.4 447.7,369.3 449.1,371.7 449.6,374.7 450.4,377.3 453.1,378.4 455.5,380M191.5,358.7 192.8,361.3 193.9,364.5 194.7,367.7 193.6,369.3 192.8,371.7 191.7,374.4 191.2,376.8 190.4,380M178.1,380 177.9,377.3 177.3,374.4 178.4,371.2 179.5,369.9 181.6,369.1 183.7,368.5 185.6,366.7 187.2,365.1 188,362.9 190.1,361.1 191.5,358.7M273.1,305.3 273.1,301.9 274.1,300.5 275.5,302.1 276.8,304.3 278.1,307.5 277.6,309.6 274.9,310.9 273.6,309.9 272.8,307.5 273.1,305.3M202.1,293.1 204.3,292.8 205.3,293.3 203.5,293.9 202.1,293.1M146.1,234.1 148,234.4 150.4,233.6 152.3,231.7 149.6,232.5 147.7,232.3 146.1,233.1 146.1,234.1M122.9,232 124.8,232.3 127.5,232.5 130.1,232.8 129.1,233.3 126.1,233.6 122.9,232.5 122.9,232M93.1,225.9 95.5,224.8 98.7,225.3 101.6,224.5 100.8,226.9 100.3,228.8 98.1,228.5 94.4,226.4 93.1,225.9M82.4,220 82.4,222.1 82.9,222.9 84,222.4 85.6,222.1 85.9,220M101.6,220 102.1,221.3 102.9,222.9 101.9,224.8 102.9,225.6 104.3,224.3 105.6,222.7 104.3,221.1 105.1,220M107.7,220 109.3,219.7M113.6,220 114.9,221.9 116.3,224 117.3,224.8 116.5,226.1 117.9,228 119.2,229.3 120,228.3 121.3,229.3 121.3,226.9 120.8,225.6 121.9,225.3 124,226.1 124,224.8 121.9,223.5 120.5,222.9 121.3,221.3 120.3,220M59.5,223.5 60.5,223.2 59.2,221.6 60,220M66.4,221.1 68.3,220.3 69.3,220.8 68.3,221.9 66.9,221.3 66.4,221.1M144.3,326.1 146.9,325.9 150.4,326.7 150.9,328.3 149.6,330.9 149.1,333.3 146.9,333.6 144.8,331.7 144.5,329.1 144.3,326.1M137.9,335.5 138.9,338.7 138.9,342.1 141.1,344.8 142.1,348 142.7,349.6 141.6,349.3 139.7,346.1 138.4,342.9 137.9,338.7 137.9,335.5M150.7,352 151.7,354.7 152.3,358.1 153.1,362.7 153.9,364.8 152.8,364.3 152,362.1 151.5,358.7 150.7,355.5 150.7,352M96.3,291.2 98.7,290.4 99.7,291.5 98.4,292.5 97.1,293.1 96.3,291.2M190.9,220 191.7,222.1 190.7,224.3 190.4,226.1 192.3,226.7 194.1,227.7 197.3,228.5 201.3,228.3 204,227.2 203.7,225.3 203.7,222.7 202.1,221.6 201.3,220M180.8,225.1 182.1,225.6 182.4,227.2 181.1,226.9 180.8,225.1M174.1,222.9 176.3,222.9 175.5,224.3 174.1,222.9M307.2,290.4 308,292.8 306.9,296 307.2,290.4M310.1,307.5 310.4,308.5 309.9,308.3 310.1,307.5"/>
</g>
<rect x="60" y="220" width="480" height="160" fill="none" stroke="#000" stroke-width="0.7"/>
<path fill="none" stroke="#000" stroke-width="0.6" d="M60,220L60,214.5M60,380L60,385.5M86.7,220L86.7,217M86.7,380L86.7,383M113.3,220L113.3,217M113.3,380L113.3,383M140,220L140,214.5M140,380L140,385.5M166.7,220L166.7,217M166.7,380L166.7,383M193.3,220L193.3,217M193.3,380L193.3,383M220,220L220,214.5M220,380L220,385.5M246.7,220L246.7,217M246.7,380L246.7,383M273.3,220L273.3,217M273.3,380L273.3,383M300,220L300,214.5M300,380L300,385.5M326.7,220L326.7,217M326.7,380L326.7,383M353.3,220L353.3,217M353.3,380L353.3,383M380,220L380,214.5M380,380L380,385.5M406.7,220L406.7,217M406.7,380L406.7,383M433.3,220L433.3,217M433.3,380L433.3,383M460,220L460,214.5M460,380L460,385.5M486.7,220L486.7,217M486.7,380L486.7,383M513.3,220L513.3,217M513.3,380L513.3,383M540,220L540,214.5M540,380L540,385.5M60,380L54.5,380M540,380L545.5,380M60,366.7L57,366.7M540,366.7L543,366.7M60,353.3L57,353.3M540,353.3L543,353.3M60,340L57,340M540,340L543,340M60,326.7L54.5,326.7M540,326.7L545.5,326.7M60,313.3L57,313.3M540,313.3L543,313.3M60,300L57,300M540,300L543,300M60,286.7L57,286.7M540,286.7L543,286.7M60,273.3L54.5,273.3M540,273.3L545.5,273.3M60,260L57,260M540,260L543,260M60,246.7L57,246.7M540,246.7L543,246.7M60,233.3L57,233.3M540,233.3L543,233.3M60,220L54.5,220M540,220L545.5,220"/>
<text transform="translate(60.00,396.00) scale(0.860,1)" text-anchor="middle" class="ax">0</text>
<text transform="translate(140.00,396.00) scale(0.860,1)" text-anchor="middle" class="ax">30E</text>
<text transform="translate(220.00,396.00) scale(0.860,1)" text-anchor="middle" class="ax">60E</text>
<text transform="translate(300.00,396.00) scale(0.860,1)" text-anchor="middle" class="ax">90E</text>
<text transform="translate(380.00,396.00) scale(0.860,1)" text-anchor="middle" class="ax">120E</text>
<text transform="translate(460.00,396.00) scale(0.860,1)" text-anchor="middle" class="ax">150E</text>
<text transform="translate(540.00,396.00) scale(0.860,1)" text-anchor="middle" class="ax">180</text>
<text transform="translate(50.00,222.90) scale(0.860,1)" text-anchor="end" class="ax">40N</text>
<text transform="translate(50.00,276.23) scale(0.860,1)" text-anchor="end" class="ax">20N</text>
<text transform="translate(50.00,329.57) scale(0.860,1)" text-anchor="end" class="ax">0</text>
<text transform="translate(50.00,382.90) scale(0.860,1)" text-anchor="end" class="ax">20S</text>
<text x="59.3" y="208.1" class="tt">(a)NW Pattern</text>
<text x="540.2" y="211.8" text-anchor="end" class="tt">500hPa</text>
<rect x="122" y="401.3" width="21.21" height="14.3" fill="#1b1f4d"/>
<rect x="142.9" y="401.3" width="21.21" height="14.3" fill="#27317d"/>
<rect x="163.8" y="401.3" width="21.21" height="14.3" fill="#2743b6"/>
<rect x="184.7" y="401.3" width="21.21" height="14.3" fill="#0b6ac6"/>
<rect x="205.6" y="401.3" width="21.21" height="14.3" fill="#3a8bbd"/>
<rect x="226.6" y="401.3" width="21.21" height="14.3" fill="#5ea4c0"/>
<rect x="247.5" y="401.3" width="21.21" height="14.3" fill="#93bccb"/>
<rect x="268.4" y="401.3" width="21.21" height="14.3" fill="#c4d3da"/>
<rect x="289.3" y="401.3" width="21.21" height="14.3" fill="#f1eeed"/>
<rect x="310.2" y="401.3" width="21.21" height="14.3" fill="#e9cdc4"/>
<rect x="331.1" y="401.3" width="21.21" height="14.3" fill="#dea996"/>
<rect x="352" y="401.3" width="21.21" height="14.3" fill="#d6876a"/>
<rect x="372.9" y="401.3" width="21.21" height="14.3" fill="#c9603f"/>
<rect x="393.9" y="401.3" width="21.21" height="14.3" fill="#b43a2a"/>
<rect x="414.8" y="401.3" width="21.21" height="14.3" fill="#981530"/>
<rect x="435.7" y="401.3" width="21.21" height="14.3" fill="#6b0f2a"/>
<rect x="456.6" y="401.3" width="20.91" height="14.3" fill="#440b18"/>
<path fill="none" stroke="#000" stroke-width="0.5" d="M142.91,401.3L142.91,415.6M163.82,401.3L163.82,415.6M184.74,401.3L184.74,415.6M205.65,401.3L205.65,415.6M226.56,401.3L226.56,415.6M247.47,401.3L247.47,415.6M268.38,401.3L268.38,415.6M289.29,401.3L289.29,415.6M310.21,401.3L310.21,415.6M331.12,401.3L331.12,415.6M352.03,401.3L352.03,415.6M372.94,401.3L372.94,415.6M393.85,401.3L393.85,415.6M414.76,401.3L414.76,415.6M435.68,401.3L435.68,415.6M456.59,401.3L456.59,415.6"/>
<rect x="122" y="401.3" width="355.50" height="14.3" fill="none" stroke="#000" stroke-width="0.6"/>
<text transform="translate(142.91,425.80) scale(0.860,1)" text-anchor="middle" class="ax">-40</text>
<text transform="translate(163.82,425.80) scale(0.860,1)" text-anchor="middle" class="ax">-30</text>
<text transform="translate(184.74,425.80) scale(0.860,1)" text-anchor="middle" class="ax">-20</text>
<text transform="translate(205.65,425.80) scale(0.860,1)" text-anchor="middle" class="ax">-10</text>
<text transform="translate(226.56,425.80) scale(0.860,1)" text-anchor="middle" class="ax">0</text>
<text transform="translate(247.47,425.80) scale(0.860,1)" text-anchor="middle" class="ax">10</text>
<text transform="translate(268.38,425.80) scale(0.860,1)" text-anchor="middle" class="ax">20</text>
<text transform="translate(289.29,425.80) scale(0.860,1)" text-anchor="middle" class="ax">30</text>
<text transform="translate(310.21,425.80) scale(0.860,1)" text-anchor="middle" class="ax">40</text>
<text transform="translate(331.12,425.80) scale(0.860,1)" text-anchor="middle" class="ax">50</text>
<text transform="translate(352.03,425.80) scale(0.860,1)" text-anchor="middle" class="ax">60</text>
<text transform="translate(372.94,425.80) scale(0.860,1)" text-anchor="middle" class="ax">70</text>
<text transform="translate(393.85,425.80) scale(0.860,1)" text-anchor="middle" class="ax">80</text>
<text transform="translate(414.76,425.80) scale(0.860,1)" text-anchor="middle" class="ax">90</text>
<text transform="translate(435.68,425.80) scale(0.860,1)" text-anchor="middle" class="ax">100</text>
<text transform="translate(456.59,425.80) scale(0.860,1)" text-anchor="middle" class="ax">110</text>
</svg>
</body></html>
